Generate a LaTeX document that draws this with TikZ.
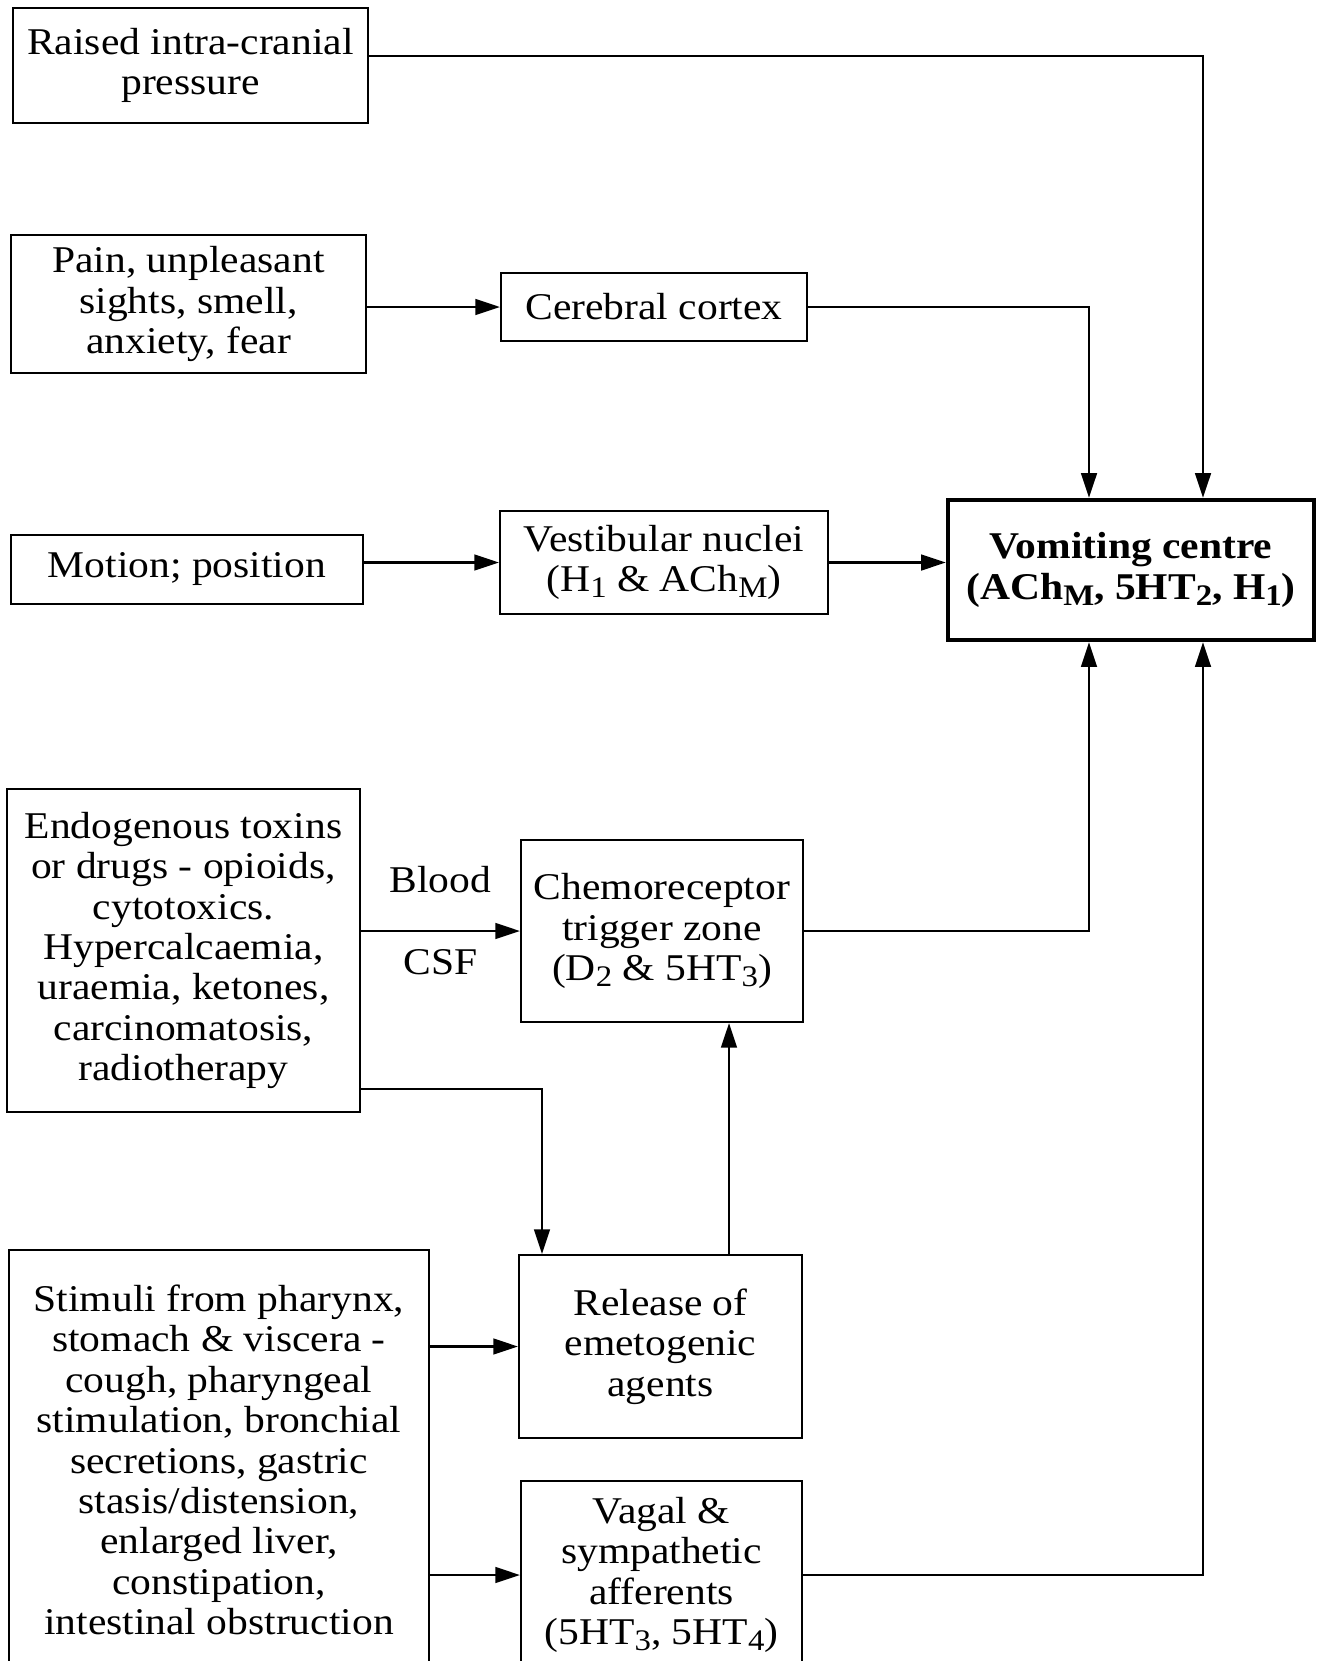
\documentclass[tikz,border=0pt]{standalone}
\usepackage{fontspec}
\setmainfont{Liberation Serif}[FakeStretch=1.1]
\usetikzlibrary{arrows.meta,positioning,calc}
\newcommand{\lowidx}[1]{\raisebox{-0.35ex}{\fontsize{17pt}{17pt}\selectfont #1}}

\begin{document}
\begin{tikzpicture}[x=0.02cm,y=-0.02cm]

\tikzstyle{block} = [draw, line width=1.3pt, align=center, inner sep=2pt, font=\fontsize{21.5pt}{23pt}\selectfont]
\tikzstyle{flow} = [line width=1.2pt, -{Triangle[length=14pt,width=9pt]}]
\tikzset{centre/.style={block, line width=2.6pt, font=\fontsize{21.5pt}{23pt}\selectfont\bfseries}}

\useasboundingbox (0,0) rectangle (1319,1661);

\node[block, minimum width=7.10cm, minimum height=2.30cm] (raised) at (190.5,65.5) {Raised intra-cranial\\pressure};
\node[block, minimum width=7.10cm, minimum height=2.76cm] (pain) at (188.5,304) {Pain, unpleasant\\sights, smell,\\anxiety, fear};
\node[block, minimum width=6.12cm, minimum height=1.36cm] (cortex) at (654,307) {Cerebral cortex};
\node[block, minimum width=7.04cm, minimum height=1.38cm] (motion) at (187,569.5) {Motion; position};
\node[block, minimum width=6.56cm, minimum height=2.06cm] (vestib) at (664,562.5) {Vestibular nuclei\\(H\lowidx{1} \& ACh\lowidx{M})};
\node[centre, minimum width=7.32cm, minimum height=2.80cm] (vomit) at (1131,570) {Vomiting centre\\(ACh\lowidx{M}, 5HT\lowidx{2}, H\lowidx{1})};

\node[block, minimum width=7.06cm, minimum height=6.46cm] (endog) at (183.5,950.5) {Endogenous toxins\\or drugs - opioids,\\cytotoxics.\\Hypercalcaemia,\\uraemia, ketones,\\carcinomatosis,\\radiotherapy};
\node[block, minimum width=5.64cm, minimum height=3.64cm] (chemo) at (662,931) {Chemoreceptor\\trigger zone\\(D\lowidx{2} \& 5HT\lowidx{3})};
\node[block, minimum width=5.66cm, minimum height=3.66cm] (release) at (660.5,1346.5) {Release of\\emetogenic\\agents};
\node[block, minimum width=8.40cm, minimum height=8.40cm] (stimuli) at (219,1460) {Stimuli from pharynx,\\stomach \& viscera -\\cough, pharyngeal\\stimulation, bronchial\\secretions, gastric\\stasis/distension,\\enlarged liver,\\constipation,\\intestinal obstruction};
\node[block, minimum width=5.62cm, minimum height=3.76cm] (vagal) at (661.5,1575) {Vagal \&\\sympathetic\\afferents\\(5HT\lowidx{3}, 5HT\lowidx{4})};

% bends
\coordinate (ricpbend) at (1203,56);
\coordinate (cortexbend) at (1089,307);
\coordinate (ctzbend) at (1089,931);
\coordinate (vagalbend) at (1203,1575);
\coordinate (endogbend) at (542,1089);
\coordinate (releaseup) at (729,1255);

\draw[flow] (raised.east |- ricpbend) -- (ricpbend) -- (ricpbend |- vomit.north);
\draw[flow] (pain.east |- cortex.west) -- (cortex.west);
\draw[flow] (cortex.east) -| (cortexbend |- vomit.north);
\draw[flow] (motion.east |- vestib.west) -- (vestib.west);
\draw[flow] (vestib.east) -- (vestib.east -| vomit.west);
\draw[flow] (endog.east |- chemo.west) -- node[font=\fontsize{21.5pt}{23pt}\selectfont, yshift=29pt] (blood) {Blood} node[font=\fontsize{21.5pt}{23pt}\selectfont, yshift=-18pt] (csf) {CSF} (chemo.west);
\draw[flow] (endog.east |- endogbend) -| (endogbend |- release.north);
\draw[flow] (releaseup |- release.north) -- (releaseup |- chemo.south);
\draw[flow] (chemo.east) -| (ctzbend |- vomit.south);
\draw[flow] (stimuli.east |- release.west) -- (release.west);
\draw[flow] (stimuli.east |- vagal.west) -- (vagal.west);
\draw[flow] (vagal.east) -| (vagalbend |- vomit.south);

\end{tikzpicture}
\end{document}
